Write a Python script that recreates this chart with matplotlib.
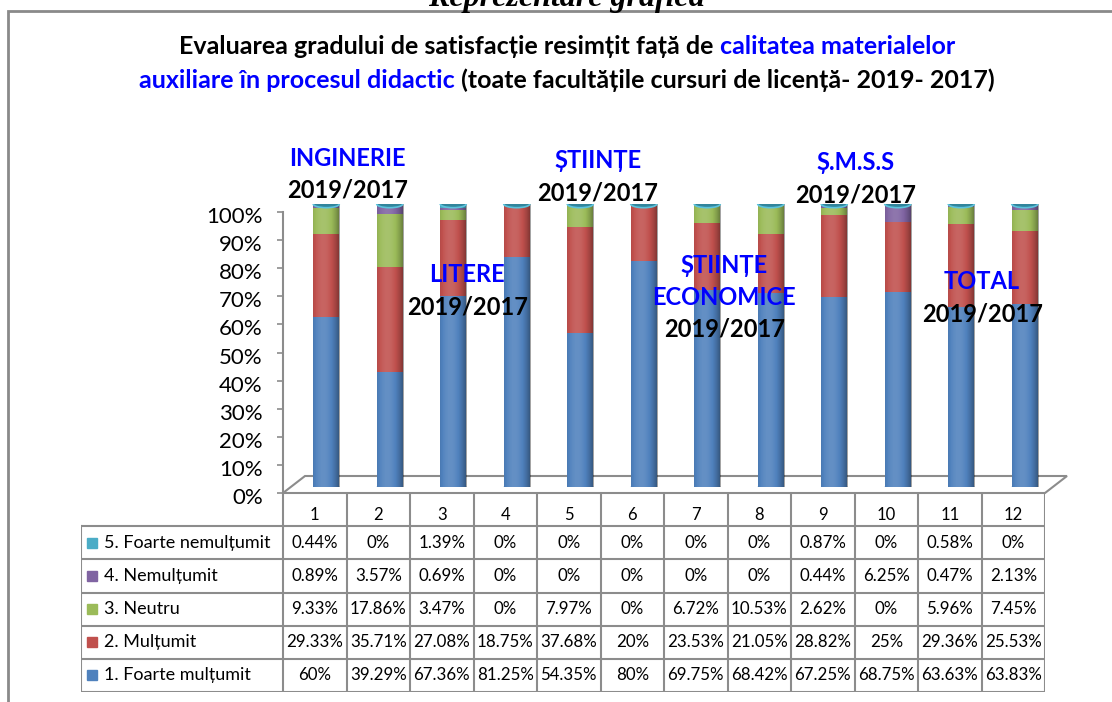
import matplotlib.pyplot as plt
import matplotlib.transforms as mtransforms
from matplotlib.patches import Ellipse, Rectangle, Polygon
import numpy as np

plt.rcParams['font.family'] = ['Lato', 'DejaVu Sans']

# data (percent), one list per answer
categories = [str(i) for i in range(1, 13)]
foarte_multumit = [60, 39.29, 67.36, 81.25, 54.35, 80, 69.75, 68.42, 67.25, 68.75, 63.63, 63.83]
multumit = [29.33, 35.71, 27.08, 18.75, 37.68, 20, 23.53, 21.05, 28.82, 25, 29.36, 25.53]
neutru = [9.33, 17.86, 3.47, 0, 7.97, 0, 6.72, 10.53, 2.62, 0, 5.96, 7.45]
nemultumit = [0.89, 3.57, 0.69, 0, 0, 0, 0, 0, 0.44, 6.25, 0.47, 2.13]
foarte_nemultumit = [0.44, 0, 1.39, 0, 0, 0, 0, 0, 0.87, 0, 0.58, 0]
series_names = ['1. Foarte mulțumit', '2. Mulțumit', '3. Neutru',
                '4. Nemulțumit', '5. Foarte nemulțumit']
group_names = ['INGINERIE', 'LITERE', 'ȘTIINȚE', 'ȘTIINȚE\nECONOMICE', 'Ș.M.S.S', 'TOTAL']
group_year = '2019/2017'

series = [foarte_multumit, multumit, neutru, nemultumit, foarte_nemultumit]
colors = ['#4f81bd', '#c0504d', '#9bbb59', '#8064a2', '#4bacc6']
BLUE = '#0000ff'
GRID = '#8c8c8c'

W, H = 1112, 702
fig = plt.figure(figsize=(W / 100, H / 100), dpi=100)


def px_axes(x0, x1, ytop, ybot):
    return fig.add_axes([x0 / W, 1 - ybot / H, (x1 - x0) / W, (ybot - ytop) / H])


# outer frame + heading above it
fig.add_artist(Rectangle((8 / W, -0.1), 1.2, 1.1 - 11 / H, transform=fig.transFigure,
                         fill=False, edgecolor='#8a8a8a', lw=2))
fig.text(566 / W, 1 - 6 / H, 'Reprezentare grafică', ha='center', va='baseline',
         fontsize=23, fontweight='bold', fontstyle='italic', family='Liberation Serif')

# title with two colours
renderer = fig.canvas.get_renderer()


def colored_line(parts, yc, size):
    texts = [fig.text(0, 1 - yc / H, s, color=c, fontsize=size, fontweight='bold',
                      va='center', ha='left') for s, c in parts]
    widths = [t.get_window_extent(renderer).width for t in texts]
    x = 567 - sum(widths) / 2
    for t, w in zip(texts, widths):
        t.set_x(x / W)
        x += w


colored_line([('Evaluarea gradului de satisfacție resimțit față de ', 'black'),
              ('calitatea materialelor', BLUE)], 47, 18)
colored_line([('auxiliare în procesul didactic', BLUE),
              (' (toate facultățile cursuri de licență- 2019- 2017)', 'black')], 80, 18)

n = len(categories)
xs = np.arange(1, n + 1)

# axis with ticks and floor
ax = px_axes(283, 1045, 212, 493)
ax.set_xlim(0.5, n + 0.5)
ax.set_ylim(0, 100)
ax.patch.set_alpha(0)
for s in ['top', 'right', 'bottom']:
    ax.spines[s].set_visible(False)
ax.spines['left'].set_color(GRID)
ax.spines['left'].set_linewidth(1.5)
ax.set_xticks([])
ax.set_yticks(np.arange(0, 101, 10))
ax.set_yticklabels([f'{v}%' for v in range(0, 101, 10)])
ax.tick_params(axis='y', length=4.5, width=1.2, color=GRID, pad=10, labelsize=16)
off = mtransforms.ScaledTranslation(0, -0.03, fig.dpi_scale_trans)
for lab in ax.get_yticklabels():
    lab.set_transform(lab.get_transform() + off)

dx, dy = 22 / 762, 17 / 281
floor = Polygon([(0, 0), (1, 0), (1 + dx, dy), (dx, dy)], closed=True, fill=False,
                edgecolor=GRID, lw=1.5, transform=ax.transAxes, clip_on=False)
ax.add_patch(floor)

# cylinders, 100% stacked
bx = px_axes(294.5, 1056.5, 204, 487)
bx.set_axis_off()
data = np.array(series, dtype=float)
share = data / data.sum(axis=0) * 100
bw = 0.41
eh = 2.6
bottom = np.zeros(n)
for vals, col in zip(share, colors):
    bx.bar(xs, vals, bw, bottom=bottom, color=col, zorder=2, linewidth=0)
    bottom += vals

t = np.linspace(0, 1, 80)
shade = 0.12 - 0.5 * ((t - 0.38) / 0.62) ** 2
rgba = np.zeros((1, t.size, 4))
rgba[0, :, :3] = (shade > 0)[:, None] * 1.0
rgba[0, :, 3] = np.abs(shade)
for x, top in zip(xs, bottom):
    bx.add_patch(Ellipse((x, 0), bw, eh, color='#4573ab', zorder=1.5, lw=0))
    im = bx.imshow(rgba, extent=(x - bw / 2, x + bw / 2, 0, top), aspect='auto',
                   interpolation='bilinear', zorder=3)
    im.set_clip_path(Rectangle((x - bw / 2, 0), bw, top, transform=bx.transData))
    bx.add_patch(Ellipse((x, top), bw, eh, facecolor='#31859c', edgecolor='#5cc3dc',
                         lw=1.2, zorder=4))
bx.set_xlim(0.5, n + 0.5)
bx.set_ylim(0, 100)

# faculty labels, drawn above the cylinders
label_pos = [(1.51, 119.2), (3.40, 77.6), (5.46, 118.2), (7.45, 81.0), (9.51, 117.6), (11.51, 75.1)]
for name, (x, y) in zip(group_names, label_pos):
    lines = name.split('\n')
    for k, ln in enumerate(lines):
        fig.text(x, y - k * 11.4, ln, color=BLUE, fontsize=17, fontweight='bold',
                 ha='center', va='center', transform=ax.transData, zorder=6)
    fig.text(x, y - len(lines) * 11.4, group_year, color='black', fontsize=17,
             fontweight='bold', ha='center', va='center', transform=ax.transData, zorder=6)

# data table
tax = px_axes(81, 1045, 493, 692)
labw = 202 / 63.5
tax.set_xlim(-labw, n)
tax.set_ylim(6, 0)
tax.set_axis_off()
lk = dict(color=GRID, lw=1.5, solid_capstyle='projecting')
for i in range(n + 1):
    tax.plot([i, i], [0, 6], **lk)
tax.plot([-labw, -labw], [1, 6], **lk)
for r in range(1, 7):
    tax.plot([-labw, n], [r, r], **lk)
for i, c in enumerate(categories):
    tax.text(i + 0.5, 0.65, c, ha='center', va='center', fontsize=12)
for r in range(5):
    k = 4 - r
    y = r + 1.5
    tax.plot(-labw + 0.18, y, 's', color=colors[k], ms=7)
    tax.text(-labw + 0.37, y, series_names[k], ha='left', va='center', fontsize=13)
    for i, v in enumerate(series[k]):
        tax.text(i + 0.5, y, f'{v:g}%', ha='center', va='center', fontsize=12.2)

fig.savefig('out.png', dpi=100)
